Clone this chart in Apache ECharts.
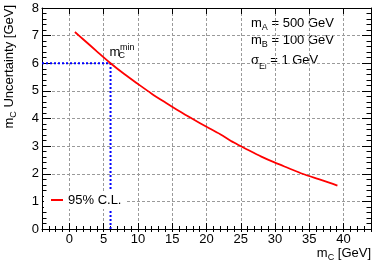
<!DOCTYPE html>
<html>
<head>
<meta charset="utf-8">
<script src="https://cdn.jsdelivr.net/npm/echarts@6/dist/echarts.min.js"></script>
<style>html,body{margin:0;padding:0;background:#fff}#c{width:374px;height:261px}</style>
</head>
<body>
<div id="c"></div>
<script>
// ---- data ----
const massC = [0.8, 2, 4, 6, 8, 10, 12, 14, 16, 18, 20, 22, 24, 26, 28, 30, 32, 34, 36, 38, 39.1];
const uncert = [7.13, 6.87, 6.43, 6.00, 5.61, 5.25, 4.90, 4.58, 4.27, 3.98, 3.70, 3.43, 3.13, 2.87, 2.62, 2.40, 2.20, 2.00, 1.83, 1.67, 1.57];
const minMassC = 6;      // m_C^min
const minUncert = 6;     // uncertainty at m_C^min
const xRange = [-4, 44];
const yRange = [0, 8];
const seriesName = '95% C.L.';

const FONT = '"Liberation Sans", Arial, Helvetica, sans-serif';
const curve = massC.map((x, i) => [x, uncert[i]]);

const chart = echarts.init(document.getElementById('c'), null, {renderer: 'canvas'});

const gridLine = {show: true, lineStyle: {color: '#9a9a9a', width: 1, type: [3, 2]}};
function xMajor(pos, labels) {
  return {
    type: 'value', min: xRange[0], max: xRange[1], splitNumber: 10, position: pos,
    axisLine: {show: true, onZero: false, lineStyle: {color: '#000', width: 1}},
    axisTick: {show: true, inside: true, length: 6, lineStyle: {color: '#000'}},
    axisLabel: {show: labels, showMinLabel: false, showMaxLabel: false, color: '#000',
      fontFamily: FONT, fontSize: 13, margin: 4},
    splitLine: labels ? gridLine : {show: false}
  };
}
function xMinor(pos) {
  return {
    type: 'value', min: xRange[0], max: xRange[1], interval: 1, position: pos,
    axisLine: {show: false},
    axisTick: {show: true, inside: true, length: 3, lineStyle: {color: '#000'}},
    axisLabel: {show: false}, splitLine: {show: false}
  };
}
function yAxisDef(pos, labels) {
  return {
    type: 'value', min: yRange[0], max: yRange[1], interval: 1, position: pos,
    axisLine: {show: true, onZero: false, lineStyle: {color: '#000', width: 1}},
    axisTick: {show: true, inside: true, length: 9, lineStyle: {color: '#000'}},
    minorTick: {show: true, splitNumber: 5, length: 4.5, lineStyle: {color: '#000'}},
    axisLabel: {show: labels, color: '#000', fontFamily: FONT, fontSize: 13, margin: 3},
    splitLine: labels ? gridLine : {show: false}
  };
}

const richBase = {
  n: {fontSize: 13, fontFamily: FONT, color: '#000', lineHeight: 18},
  s: {fontSize: 9, fontFamily: FONT, color: '#000', lineHeight: 9, verticalAlign: 'bottom'}
};
const richSigma = {
  n: {fontSize: 13, fontFamily: FONT, color: '#000', lineHeight: 22},
  s: {fontSize: 9, fontFamily: FONT, color: '#000', lineHeight: 12, verticalAlign: 'bottom'},
  ss: {fontSize: 7, fontFamily: FONT, color: '#000', lineHeight: 5, verticalAlign: 'bottom'}
};

chart.setOption({
  animation: false,
  backgroundColor: '#fff',
  grid: {left: 42, right: 3, top: 8, bottom: 32, containLabel: false},
  xAxis: [xMajor('bottom', true), xMinor('bottom'), xMajor('top', false), xMinor('top')],
  yAxis: [yAxisDef('left', true), yAxisDef('right', false)],
  legend: {
    data: [{name: seriesName, icon: 'rect'}],
    left: 44, top: 191, orient: 'vertical',
    itemWidth: 12, itemHeight: 2,
    padding: [2, 5, 2, 7],
    backgroundColor: '#fff',
    textStyle: {color: '#000', fontFamily: FONT, fontSize: 13, lineHeight: 14}
  },
  series: [
    {
      name: 'cl-h', type: 'line', xAxisIndex: 0, yAxisIndex: 0, silent: true,
      data: [[xRange[0], minUncert], [minMassC, minUncert]],
      symbol: 'none', lineStyle: {color: '#0000ff', width: 2, type: [2, 2]}, z: 3
    },
    {
      name: 'cl-v', type: 'line', xAxisIndex: 0, yAxisIndex: 0, silent: true,
      data: [[minMassC, yRange[0]], [minMassC, minUncert]],
      symbol: 'none', lineStyle: {color: '#0000ff', width: 2, type: [2, 2]}, z: 3
    },
    {
      name: seriesName, type: 'line', xAxisIndex: 0, yAxisIndex: 0,
      data: curve, smooth: 0.3, symbol: 'none',
      itemStyle: {color: '#ff0000'},
      lineStyle: {color: '#ff0000', width: 1.8}, z: 4
    }
  ],
  graphic: [
    // y axis title
    {type: 'text', x: 9.5, y: 5, rotation: Math.PI / 2,
      style: {text: '{n|m}{s|C}{n| Uncertainty [GeV]}', rich: richBase, align: 'right', verticalAlign: 'middle'}},
    // x axis title
    {type: 'text', x: 371, y: 253,
      style: {text: '{n|m}{s|C}{n| [GeV]}', rich: richBase, align: 'right', verticalAlign: 'middle'}},
    // m_C^min label
    {type: 'text', x: 109.5, y: 52,
      style: {text: 'm', fontFamily: FONT, fontSize: 13, fill: '#000', align: 'left', verticalAlign: 'middle'}},
    {type: 'text', x: 118.5, y: 55.5,
      style: {text: 'C', fontFamily: FONT, fontSize: 9, fill: '#000', align: 'left', verticalAlign: 'middle'}},
    {type: 'text', x: 120, y: 48,
      style: {text: 'min', fontFamily: FONT, fontSize: 9, fill: '#000', align: 'left', verticalAlign: 'middle'}},
    // parameter block
    {type: 'text', x: 251, y: 23,
      style: {text: '{n|m}{s|A}{n| = 500 GeV}', rich: richBase, align: 'left', verticalAlign: 'middle'}},
    {type: 'text', x: 251, y: 40.5,
      style: {text: '{n|m}{s|B}{n| = 100 GeV}', rich: richBase, align: 'left', verticalAlign: 'middle'}},
    {type: 'text', x: 251, y: 60,
      style: {text: '{n|σ}{s|E}{ss|i}{n| = 1 GeV}', rich: richSigma, align: 'left', verticalAlign: 'middle'}}
  ]
});
</script>
</body>
</html>
